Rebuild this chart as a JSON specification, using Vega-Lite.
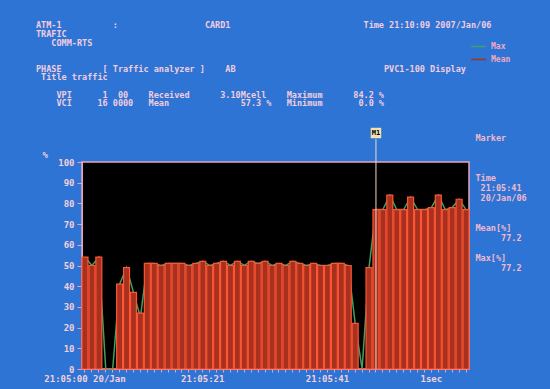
{
  "$schema": "https://vega.github.io/schema/vega-lite/v6.json",
  "width": 387,
  "height": 207,
  "autosize": {"type": "none"},
  "padding": {"left": 82, "top": 162, "right": 81, "bottom": 20},
  "background": "#2d74d4",
  "config": {
    "view": {"fill": "#000000", "stroke": "#e9a3bd", "strokeWidth": 1.5},
    "font": "DejaVu Sans Mono"
  },
  "title": {
    "text": [
      "ATM-1\u00a0\u00a0\u00a0\u00a0\u00a0\u00a0\u00a0\u00a0\u00a0\u00a0:\u00a0\u00a0\u00a0\u00a0\u00a0\u00a0\u00a0\u00a0\u00a0\u00a0\u00a0\u00a0\u00a0\u00a0\u00a0\u00a0\u00a0CARD1\u00a0\u00a0\u00a0\u00a0\u00a0\u00a0\u00a0\u00a0\u00a0\u00a0\u00a0\u00a0\u00a0\u00a0\u00a0\u00a0\u00a0\u00a0\u00a0\u00a0\u00a0\u00a0\u00a0\u00a0\u00a0\u00a0Time 21:10:09 2007/Jan/06",
      "TRAFIC",
      "\u200b\u00a0\u00a0\u00a0COMM-RTS",
      "\u200b\u00a0\u200b",
      "\u200b\u00a0\u200b",
      "PHASE\u00a0\u00a0\u00a0\u00a0\u00a0\u00a0\u00a0\u00a0[ Traffic analyzer ]\u00a0\u00a0\u00a0\u00a0AB\u00a0\u00a0\u00a0\u00a0\u00a0\u00a0\u00a0\u00a0\u00a0\u00a0\u00a0\u00a0\u00a0\u00a0\u00a0\u00a0\u00a0\u00a0\u00a0\u00a0\u00a0\u00a0\u00a0\u00a0\u00a0\u00a0\u00a0\u00a0\u00a0PVC1-100 Display",
      "\u200b\u00a0Title traffic",
      "\u200b\u00a0\u200b",
      "\u200b\u00a0\u00a0\u00a0\u00a0VPI\u00a0\u00a0\u00a0\u00a0\u00a0\u00a01\u00a0\u00a000\u00a0\u00a0\u00a0\u00a0Received\u00a0\u00a0\u00a0\u00a0\u00a0\u00a03.10Mcell\u00a0\u00a0\u00a0\u00a0Maximum\u00a0\u00a0\u00a0\u00a0\u00a0\u00a084.2 %",
      "\u200b\u00a0\u00a0\u00a0\u00a0VCI\u00a0\u00a0\u00a0\u00a0\u00a016\u00a00000\u00a0\u00a0\u00a0Mean\u00a0\u00a0\u00a0\u00a0\u00a0\u00a0\u00a0\u00a0\u00a0\u00a0\u00a0\u00a0\u00a0\u00a057.3 %\u00a0\u00a0\u00a0Minimum\u00a0\u00a0\u00a0\u00a0\u00a0\u00a0\u00a00.0 %"
    ],
    "anchor": "start",
    "frame": "group",
    "dx": -46,
    "offset": -70,
    "color": "#f2cde0",
    "fontSize": 8.5,
    "font": "DejaVu Sans Mono",
    "fontWeight": "bold",
    "lineHeight": 8.7
  },
  "data": {
    "values": [
      {"t": 0, "mean": 54, "max": 54},
      {"t": 1, "mean": 50, "max": 50},
      {"t": 2, "mean": 54, "max": 54},
      {"t": 3, "mean": 0, "max": 0},
      {"t": 4, "mean": 0, "max": 0},
      {"t": 5, "mean": 41, "max": 41},
      {"t": 6, "mean": 49, "max": 49},
      {"t": 7, "mean": 37, "max": 37},
      {"t": 8, "mean": 27, "max": 25},
      {"t": 9, "mean": 51, "max": 51},
      {"t": 10, "mean": 51, "max": 51},
      {"t": 11, "mean": 50, "max": 50},
      {"t": 12, "mean": 51, "max": 51},
      {"t": 13, "mean": 51, "max": 51},
      {"t": 14, "mean": 51, "max": 51},
      {"t": 15, "mean": 50, "max": 50},
      {"t": 16, "mean": 51, "max": 51},
      {"t": 17, "mean": 52, "max": 52},
      {"t": 18, "mean": 50, "max": 50},
      {"t": 19, "mean": 51, "max": 51},
      {"t": 20, "mean": 52, "max": 52},
      {"t": 21, "mean": 50, "max": 50},
      {"t": 22, "mean": 52, "max": 52},
      {"t": 23, "mean": 50, "max": 50},
      {"t": 24, "mean": 52, "max": 52},
      {"t": 25, "mean": 51, "max": 51},
      {"t": 26, "mean": 52, "max": 52},
      {"t": 27, "mean": 50, "max": 50},
      {"t": 28, "mean": 51, "max": 51},
      {"t": 29, "mean": 50, "max": 50},
      {"t": 30, "mean": 52, "max": 52},
      {"t": 31, "mean": 51, "max": 51},
      {"t": 32, "mean": 50, "max": 50},
      {"t": 33, "mean": 51, "max": 51},
      {"t": 34, "mean": 50, "max": 50},
      {"t": 35, "mean": 50, "max": 50},
      {"t": 36, "mean": 51, "max": 51},
      {"t": 37, "mean": 51, "max": 51},
      {"t": 38, "mean": 50, "max": 50},
      {"t": 39, "mean": 22, "max": 22},
      {"t": 40, "mean": 0, "max": 0},
      {"t": 41, "mean": 49, "max": 49},
      {"t": 42, "mean": 77, "max": 77},
      {"t": 43, "mean": 77, "max": 77},
      {"t": 44, "mean": 84, "max": 84},
      {"t": 45, "mean": 77, "max": 77},
      {"t": 46, "mean": 77, "max": 77},
      {"t": 47, "mean": 83, "max": 83},
      {"t": 48, "mean": 77, "max": 77},
      {"t": 49, "mean": 77, "max": 77},
      {"t": 50, "mean": 78, "max": 78},
      {"t": 51, "mean": 84, "max": 84},
      {"t": 52, "mean": 77, "max": 77},
      {"t": 53, "mean": 78, "max": 78},
      {"t": 54, "mean": 82, "max": 82},
      {"t": 55, "mean": 77, "max": 77}
    ]
  },
  "encoding": {
    "x": {
      "field": "t",
      "type": "ordinal",
      "scale": {"type": "band", "paddingInner": 0.14, "paddingOuter": 0},
      "axis": {
        "title": null,
        "labelAngle": 0,
        "labelOverlap": false,
        "labelExpr": "datum.value == 0 ? '21:05:00 20/Jan' : datum.value == 17 ? '21:05:21' : datum.value == 35 ? '21:05:41' : datum.value == 50 ? '1sec' : ''",
        "labelColor": "#f5d0dc",
        "labelFontSize": 9,
        "labelFontWeight": "bold",
        "labelPadding": 2,
        "domainColor": "#e9a3bd",
        "tickColor": "#e9a3bd",
        "tickSize": 3,
        "grid": false
      }
    }
  },
  "layer": [
    {
      "mark": {"type": "line", "strokeWidth": 1.5},
      "encoding": {
        "y": {
          "field": "max",
          "type": "quantitative",
          "scale": {"domain": [0, 100], "nice": false},
          "axis": {
            "values": [0, 10, 20, 30, 40, 50, 60, 70, 80, 90, 100],
            "grid": false,
            "labelColor": "#f5d0dc",
            "labelFontSize": 9,
            "labelFontWeight": "bold",
            "labelPadding": 3,
            "tickColor": "#e9a3bd",
            "tickSize": 5,
            "domainColor": "#e9a3bd",
            "title": "%",
            "titleAngle": 0,
            "titleColor": "#f5d0dc",
            "titleFontSize": 9,
            "titleAlign": "left",
            "titleBaseline": "bottom",
            "titleX": -40,
            "titleY": -3
          }
        },
        "color": {
          "datum": "Max",
          "scale": {"domain": ["Max", "Mean"], "range": ["#3fa060", "#a8301e"]},
          "legend": {
            "title": null,
            "orient": "none",
            "legendX": 388,
            "legendY": -124,
            "symbolType": "stroke",
            "symbolSize": 220,
            "symbolStrokeWidth": 1.5,
            "labelColor": "#f2a8c4",
            "labelFontSize": 8,
            "labelFontWeight": "bold",
            "rowPadding": 0
          }
        }
      }
    },
    {
      "mark": {"type": "bar", "stroke": "#ff5533", "strokeWidth": 1.2},
      "encoding": {
        "y": {"field": "mean", "type": "quantitative", "axis": null},
        "color": {"datum": "Mean"}
      }
    },
    {
      "transform": [{"filter": "datum.t == 42"}],
      "mark": {"type": "rule", "color": "#f5d7c8", "strokeWidth": 1},
      "encoding": {
        "y": {
          "datum": 0,
          "type": "quantitative",
          "axis": {
            "orient": "right",
            "labels": false,
            "ticks": false,
            "domain": false,
            "grid": false,
            "title": ["Marker", "\u200b\u00a0\u200b", "\u200b\u00a0\u200b", "\u200b\u00a0\u200b", "Time", "\u200b\u00a021:05:41", "\u200b\u00a020/Jan/06", "\u200b\u00a0\u200b", "\u200b\u00a0\u200b", "Mean[%]", "\u200b\u00a0\u00a0\u00a0\u00a0\u00a077.2", "\u200b\u00a0\u200b", "Max[%]", "\u200b\u00a0\u00a0\u00a0\u00a0\u00a077.2"],
            "titleAngle": 0,
            "titleAlign": "left",
            "titleBaseline": "top",
            "titleX": 6,
            "titleY": -29,
            "titleColor": "#f2b8cc",
            "titleFontSize": 8.5,
            "titleFontWeight": "bold",
            "titleLineHeight": 10
          }
        },
        "y2": {"datum": 111}
      }
    },
    {
      "transform": [{"filter": "datum.t == 42"}],
      "mark": {"type": "point", "shape": "square", "filled": true, "size": 110, "color": "#f3e2b0", "opacity": 1},
      "encoding": {
        "y": {"datum": 114, "type": "quantitative", "axis": null}
      }
    },
    {
      "transform": [{"filter": "datum.t == 42"}],
      "mark": {"type": "text", "text": "M1", "fontSize": 7, "fontWeight": "bold", "color": "#000000"},
      "encoding": {
        "y": {"datum": 114, "type": "quantitative", "axis": null}
      }
    }
  ],
  "resolve": {"axis": {"y": "independent"}}
}
